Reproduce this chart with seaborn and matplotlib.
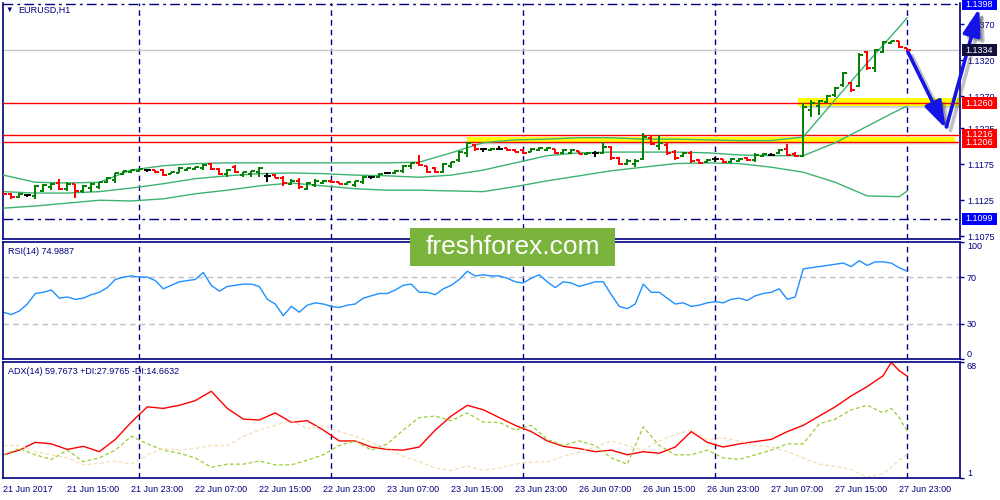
import numpy as np
import matplotlib
matplotlib.use('Agg')
import matplotlib.pyplot as plt
import seaborn as sns
from matplotlib.patches import Rectangle

sns.set_style('white')
plt.rcParams['font.family'] = ['Liberation Sans', 'DejaVu Sans']

# EURUSD H1 bars, 21 Jun 2017 07:00 .. 28 Jun 2017 00:00
open_ = [1.1137, 1.1134, 1.1130, 1.1132, 1.1131, 1.1138, 1.1144, 1.1149, 1.1141, 1.1148,
         1.1138, 1.1142, 1.1144, 1.1150, 1.1153, 1.1162, 1.1164, 1.1166, 1.1167, 1.1167,
         1.1167, 1.1162, 1.1163, 1.1167, 1.1169, 1.1170, 1.1176, 1.1169, 1.1162, 1.1171,
         1.1160, 1.1162, 1.1164, 1.1159, 1.1160, 1.1156, 1.1148, 1.1152, 1.1141, 1.1146,
         1.1149, 1.1152, 1.1150, 1.1148, 1.1146, 1.1150, 1.1157, 1.1157, 1.1163, 1.1163,
         1.1166, 1.1173, 1.1177, 1.1173, 1.1170, 1.1164, 1.1173, 1.1181, 1.1191, 1.1202,
         1.1196, 1.1195, 1.1196, 1.1197, 1.1195, 1.1195, 1.1192, 1.1195, 1.1195, 1.1196,
         1.1191, 1.1191, 1.1194, 1.1189, 1.1191, 1.1191, 1.1199, 1.1184, 1.1176, 1.1176,
         1.1182, 1.1212, 1.1200, 1.1202, 1.1192, 1.1187, 1.1191, 1.1181, 1.1178, 1.1182,
         1.1182, 1.1178, 1.1180, 1.1184, 1.1181, 1.1187, 1.1188, 1.1191, 1.1196, 1.1189,
         1.1187, 1.1251, 1.1256, 1.1262, 1.1271, 1.1285, 1.1288, 1.1284, 1.1331, 1.1309,
         1.1331, 1.1344, 1.1347, 1.1337]
high = [1.1138, 1.1135, 1.1135, 1.1134, 1.1146, 1.1148, 1.1149, 1.1155, 1.1150, 1.1148,
        1.1146, 1.1149, 1.1150, 1.1157, 1.1163, 1.1166, 1.1167, 1.1169, 1.1169, 1.1167,
        1.1169, 1.1164, 1.1171, 1.1170, 1.1171, 1.1176, 1.1177, 1.1170, 1.1169, 1.1174,
        1.1164, 1.1166, 1.1171, 1.1163, 1.1162, 1.1159, 1.1155, 1.1156, 1.1150, 1.1155,
        1.1153, 1.1153, 1.1150, 1.1150, 1.1152, 1.1159, 1.1159, 1.1163, 1.1163, 1.1167,
        1.1174, 1.1177, 1.1188, 1.1173, 1.1171, 1.1177, 1.1178, 1.1194, 1.1206, 1.1203,
        1.1198, 1.1198, 1.1200, 1.1198, 1.1196, 1.1196, 1.1198, 1.1199, 1.1199, 1.1196,
        1.1196, 1.1196, 1.1194, 1.1192, 1.1194, 1.1206, 1.1200, 1.1185, 1.1182, 1.1182,
        1.1219, 1.1216, 1.1216, 1.1205, 1.1195, 1.1192, 1.1194, 1.1182, 1.1182, 1.1185,
        1.1182, 1.1184, 1.1184, 1.1185, 1.1191, 1.1191, 1.1191, 1.1196, 1.1203, 1.1192,
        1.1260, 1.1265, 1.1265, 1.1271, 1.1283, 1.1303, 1.1290, 1.1330, 1.1333, 1.1335,
        1.1347, 1.1347, 1.1347, 1.1337]
low = [1.1132, 1.1127, 1.1128, 1.1130, 1.1127, 1.1137, 1.1139, 1.1139, 1.1138, 1.1128,
       1.1135, 1.1137, 1.1141, 1.1149, 1.1149, 1.1160, 1.1163, 1.1164, 1.1164, 1.1163,
       1.1159, 1.1162, 1.1163, 1.1166, 1.1167, 1.1167, 1.1167, 1.1160, 1.1157, 1.1163,
       1.1157, 1.1157, 1.1157, 1.1150, 1.1156, 1.1145, 1.1146, 1.1141, 1.1139, 1.1144,
       1.1148, 1.1149, 1.1148, 1.1146, 1.1144, 1.1148, 1.1155, 1.1156, 1.1162, 1.1162,
       1.1163, 1.1169, 1.1173, 1.1163, 1.1163, 1.1163, 1.1170, 1.1178, 1.1185, 1.1194,
       1.1192, 1.1194, 1.1195, 1.1194, 1.1192, 1.1189, 1.1192, 1.1194, 1.1194, 1.1189,
       1.1189, 1.1189, 1.1189, 1.1188, 1.1185, 1.1189, 1.1181, 1.1174, 1.1174, 1.1171,
       1.1181, 1.1202, 1.1195, 1.1188, 1.1181, 1.1185, 1.1177, 1.1176, 1.1177, 1.1178,
       1.1177, 1.1177, 1.1178, 1.1180, 1.1178, 1.1185, 1.1187, 1.1189, 1.1187, 1.1185,
       1.1185, 1.1241, 1.1244, 1.1260, 1.1269, 1.1283, 1.1276, 1.1283, 1.1306, 1.1303,
       1.1330, 1.1342, 1.1337, 1.1331]
close = [1.1134, 1.1130, 1.1134, 1.1132, 1.1145, 1.1146, 1.1148, 1.1141, 1.1148, 1.1138,
         1.1145, 1.1148, 1.1150, 1.1156, 1.1163, 1.1166, 1.1167, 1.1169, 1.1167, 1.1164,
         1.1160, 1.1164, 1.1170, 1.1170, 1.1171, 1.1174, 1.1169, 1.1162, 1.1167, 1.1164,
         1.1164, 1.1166, 1.1170, 1.1159, 1.1156, 1.1149, 1.1152, 1.1144, 1.1149, 1.1152,
         1.1152, 1.1150, 1.1148, 1.1150, 1.1152, 1.1157, 1.1157, 1.1162, 1.1163, 1.1166,
         1.1173, 1.1177, 1.1174, 1.1164, 1.1164, 1.1176, 1.1178, 1.1192, 1.1205, 1.1196,
         1.1196, 1.1196, 1.1196, 1.1195, 1.1192, 1.1191, 1.1196, 1.1198, 1.1198, 1.1191,
         1.1195, 1.1195, 1.1189, 1.1191, 1.1191, 1.1199, 1.1184, 1.1176, 1.1180, 1.1180,
         1.1213, 1.1203, 1.1205, 1.1191, 1.1184, 1.1191, 1.1180, 1.1177, 1.1181, 1.1182,
         1.1178, 1.1182, 1.1182, 1.1181, 1.1188, 1.1190, 1.1188, 1.1195, 1.1188, 1.1187,
         1.1255, 1.1260, 1.1263, 1.1270, 1.1281, 1.1302, 1.1278, 1.1327, 1.1309, 1.1334,
         1.1345, 1.1347, 1.1338, 1.1334]

# Bollinger bands, read every 4 bars
band_bars = [0, 4, 8, 12, 16, 20, 24, 28, 32, 36, 40, 44, 48, 52, 56, 60, 64, 68, 72, 76,
             80, 84, 88, 92, 96, 100, 104, 108, 112, 113]
bb_upper = [1.1160, 1.1150, 1.1149, 1.1150, 1.1167, 1.1173, 1.1176, 1.1177, 1.1177, 1.1177,
            1.1177, 1.1177, 1.1177, 1.1178, 1.1191, 1.1205, 1.1209, 1.1210, 1.1212, 1.1212,
            1.1210, 1.1210, 1.1209, 1.1208, 1.1208, 1.1213, 1.1265, 1.1316, 1.1366, 1.1379]
bb_mid = [1.1137, 1.1135, 1.1135, 1.1137, 1.1142, 1.1148, 1.1155, 1.1159, 1.1162, 1.1163,
          1.1162, 1.1160, 1.1159, 1.1157, 1.1160, 1.1167, 1.1177, 1.1187, 1.1191, 1.1192,
          1.1192, 1.1192, 1.1191, 1.1188, 1.1187, 1.1187, 1.1205, 1.1228, 1.1251, 1.1256]
bb_lower = [1.1114, 1.1117, 1.1121, 1.1125, 1.1124, 1.1127, 1.1134, 1.1139, 1.1145, 1.1149,
            1.1145, 1.1141, 1.1139, 1.1139, 1.1138, 1.1137, 1.1144, 1.1152, 1.1159, 1.1166,
            1.1171, 1.1176, 1.1177, 1.1176, 1.1171, 1.1164, 1.1150, 1.1131, 1.1130, 1.1138]

rsi = [40, 38, 41, 47, 56, 57, 59, 52, 53, 51,
       52, 55, 57, 61, 68, 70, 71, 70, 70, 67,
       60, 63, 66, 67, 68, 74, 63, 58, 62, 63,
       64, 64, 62, 51, 47, 37, 45, 40, 46, 48,
       47, 45, 44, 46, 47, 52, 54, 56, 56, 59,
       63, 64, 57, 57, 55, 60, 63, 68, 75, 71,
       72, 71, 71, 69, 66, 65, 69, 72, 66, 61,
       66, 65, 62, 64, 66, 66, 55, 45, 43, 47,
       64, 57, 57, 52, 47, 48, 45, 46, 48, 49,
       48, 51, 52, 50, 54, 56, 57, 60, 51, 53,
       77, 78, 79, 80, 81, 82, 79, 84, 80, 83,
       83, 82, 78, 74.99]

# ADX / DI, read every 2 bars then the last bars
di_bars = list(range(0, 111, 2)) + [111, 112, 113]
adx = [14.4, 17.1, 21.6, 20.7, 17.5, 19.3, 16.2, 23.3, 33.2, 42.1,
       41.2, 43.0, 45.7, 51.1, 41.2, 35.0, 34.5, 38.6, 33.2, 34.1,
       28.7, 22.4, 22.4, 18.9, 17.5, 17.1, 18.9, 28.7, 36.8, 43.0,
       40.4, 35.9, 31.4, 27.8, 22.4, 19.3, 18.0, 16.2, 17.1, 14.4,
       16.2, 15.3, 18.9, 27.8, 21.6, 18.9, 20.7, 22.0, 23.3, 27.8,
       31.4, 36.8, 42.1, 48.4, 53.8, 60.1, 67.8, 63.0, 59.77]
plus_di = [14.4, 18.0, 14.4, 11.7, 17.1, 10.4, 12.6, 17.1, 25.1, 20.7,
           17.1, 15.3, 12.6, 7.2, 9.0, 9.0, 10.8, 8.6, 8.6, 11.3,
           14.4, 19.8, 22.4, 17.1, 20.7, 28.7, 35.9, 36.8, 34.1, 38.6,
           33.2, 33.2, 28.7, 31.4, 23.3, 19.8, 22.4, 19.8, 12.6, 9.0,
           30.5, 19.8, 14.4, 14.4, 17.1, 12.6, 11.7, 14.4, 17.1, 20.7,
           20.7, 32.3, 35.0, 40.4, 43.0, 38.6, 41.3, 35.9, 27.98]
minus_di = [19.8, 19.8, 16.2, 14.4, 12.6, 8.6, 9.5, 10.8, 9.0, 14.4,
            18.0, 17.1, 18.0, 19.8, 19.8, 25.1, 28.7, 31.4, 34.1, 29.6,
            31.4, 27.8, 25.1, 21.6, 18.0, 13.5, 10.4, 6.8, 5.4, 7.9,
            5.4, 6.8, 9.0, 10.3, 10.3, 13.5, 16.2, 18.9, 22.4, 19.8,
            17.1, 22.4, 26.0, 28.7, 23.3, 24.2, 22.4, 19.8, 18.9, 16.2,
            12.6, 9.0, 7.7, 5.9, 1.5, 3.5, 7.2, 11.3, 14.66]

label_bars = [0, 8, 16, 24, 32, 40, 48, 56, 64, 72, 80, 88, 96, 104, 112]
time_labels = ['21 Jun 2017', '21 Jun 15:00', '21 Jun 23:00', '22 Jun 07:00', '22 Jun 15:00',
               '22 Jun 23:00', '23 Jun 07:00', '23 Jun 15:00', '23 Jun 23:00', '26 Jun 07:00',
               '26 Jun 15:00', '26 Jun 23:00', '27 Jun 07:00', '27 Jun 15:00', '27 Jun 23:00']
day_breaks = [17, 41, 65, 89, 113]

price_ticks = [1.1075, 1.1125, 1.1175, 1.1225, 1.1270, 1.1320, 1.1370]
levels = [1.1260, 1.1216, 1.1206]
bid = 1.1334
range_top, range_bottom = 1.1398, 1.1099

NAVY = '#000080'
fig = plt.figure(figsize=(10, 5), dpi=100)
ax = fig.add_axes([0.003, 0.522, 0.957, 0.472])
ax_rsi = fig.add_axes([0.003, 0.282, 0.957, 0.234])
ax_adx = fig.add_axes([0.003, 0.044, 0.957, 0.232])

for a in (ax, ax_rsi, ax_adx):
    a.set_xlim(-0.04, 119.6)
    for s in a.spines.values():
        s.set_color(NAVY)
        s.set_linewidth(1.2)
    a.yaxis.tick_right()
    a.tick_params(axis='y', direction='out', length=3, width=1, colors=NAVY, labelsize=6.5, pad=2)
    for d in day_breaks:
        a.axvline(d, color=NAVY, lw=1, ls=(0, (4, 3)), zorder=1)
ax.spines['top'].set_visible(False)

# ---- price panel
ax.set_ylim(1.10711, 1.13994)
ax.set_xticks([])
ax.set_yticks(price_ticks)
ax.set_yticklabels([f'{p:.4f}' for p in price_ticks])
ax.axhline(bid, color='#c8c8c8', lw=1, zorder=1)
for lv in (range_top, range_bottom):
    ax.axhline(lv, color=NAVY, lw=1, ls=(0, (7, 3, 2, 3)), zorder=1)

# highlighted zones with soft shadow
for x0, lo, hi in [(58.0, 1.12055, 1.12125), (99.3, 1.12555, 1.12675)]:
    x1 = 119.6 if x0 > 90 else 119.0
    for k, al in enumerate([0.35, 0.22, 0.1]):
        ax.add_patch(Rectangle((x0 + 0.3, lo - 0.00014 * (k + 1)), x1 - x0, 0.00014,
                               fc='#606060', ec='none', alpha=al, zorder=2))
    ax.add_patch(Rectangle((x0, lo), x1 - x0, hi - lo, fc='#ffff00', ec='none', zorder=2))
for lv in levels:
    ax.axhline(lv, color='#ff0000', lw=1, zorder=3)

band_color = '#3cb371'
for series in (bb_upper, bb_mid, bb_lower):
    sns.lineplot(x=band_bars, y=series, ax=ax, color=band_color, lw=1,
                 estimator=None, sort=False, legend=False, zorder=4)

idx = np.arange(len(close))
o, h, l, c = map(np.array, (open_, high, low, close))
col = np.where(c > o, '#008000', np.where(c < o, '#ff0000', '#000000'))
ax.vlines(idx, l, h, colors=col, lw=1.4, zorder=5)
ax.hlines(o, idx - 0.42, idx, colors=col, lw=1.4, zorder=5)
ax.hlines(c, idx, idx + 0.42, colors=col, lw=1.4, zorder=5)
ax.set_ylabel('')

# forecast arrows (with shadow)
arrows = [((113.1, 1.1331), (117.8, 1.1225)), ((117.9, 1.1227), (122.0, 1.1392))]
for (xs, ys), (xe, ye) in arrows:
    for dx, dy, colr, al in [(0.5, -0.0005, '#505050', 0.35), (0, 0, '#1414e6', 1)]:
        ax.annotate('', xy=(xe + dx, ye + dy), xytext=(xs + dx, ys + dy),
                    arrowprops=dict(arrowstyle='-|>,head_length=0.9,head_width=0.3', color=colr,
                                    lw=2.6, alpha=al, mutation_scale=18, shrinkA=0, shrinkB=0),
                    annotation_clip=False, zorder=8)

# price tags on the right scale
tags = [(1.1398, '#0000ff'), (bid, '#10103a'), (1.1260, '#ff0000'),
        (1.1206, '#ff0000'), (1.1216, '#ff0000'), (1.1099, '#0000ff')]
tr = ax.get_yaxis_transform()
for val, fc in tags:
    ax.add_patch(Rectangle((1.002, val - 0.00083), 0.037, 0.00166, transform=tr, fc=fc,
                           ec='none', clip_on=False, zorder=9))
    ax.text(1.0055, val, f'{val:.4f}', transform=tr, ha='left', va='center', fontsize=6.5,
            color='white', clip_on=False, zorder=10)

fig.text(0.0055, 0.979, '\u25bc', fontsize=5.5, color=NAVY, va='center', ha='left')
fig.text(0.018, 0.979, 'EURUSD,H1', fontsize=6.5, color=NAVY, va='center', ha='left')

# ---- RSI panel
ax_rsi.set_ylim(0, 100)
ax_rsi.set_xticks([])
sns.lineplot(x=idx, y=rsi, ax=ax_rsi, color='#1e90ff', lw=1, estimator=None, sort=False, legend=False)
for lv in (70, 30):
    ax_rsi.axhline(lv, color='#c0c0c0', lw=1, ls=(0, (4, 3)), zorder=1)
ax_rsi.set_yticks([100, 70, 30, 0])
ax_rsi.set_yticklabels(['100', '70', '30', '0'])
rl = ax_rsi.get_yticklabels()
rl[0].set_va('top')
rl[-1].set_va('bottom')
ax_rsi.set_ylabel('')
fig.text(0.0075, 1 - 252 / 500, 'RSI(14) 74.9887', fontsize=6.5, color=NAVY, va='center', ha='left')

# ---- ADX panel
ax_adx.set_ylim(1, 68)
sns.lineplot(x=di_bars, y=adx, ax=ax_adx, color='#ff0000', lw=1, estimator=None, sort=False, legend=False)
sns.lineplot(x=di_bars, y=plus_di, ax=ax_adx, color='#9acd32', lw=0.9, estimator=None, sort=False,
             legend=False, dashes=False)
sns.lineplot(x=di_bars, y=minus_di, ax=ax_adx, color='#f5deb3', lw=0.9, estimator=None, sort=False,
             legend=False, dashes=False)
ax_adx.lines[-2].set_linestyle((0, (3, 2)))
ax_adx.lines[-1].set_linestyle((0, (3, 2)))
ax_adx.set_yticks([68, 1])
ax_adx.set_yticklabels(['68', '1'])
al_ = ax_adx.get_yticklabels()
al_[0].set_va('top')
al_[1].set_va('bottom')
ax_adx.set_ylabel('')
ax_adx.set_xticks(label_bars)
ax_adx.set_xticklabels(time_labels, ha='left')
ax_adx.tick_params(axis='x', direction='out', length=3, width=1, colors=NAVY, labelsize=6.5, pad=2)
fig.text(0.0075, 1 - 371.5 / 500, 'ADX(14) 59.7673 +DI:27.9765 -DI:14.6632', fontsize=6.5,
         color=NAVY, va='center', ha='left')

# watermark
fig.add_artist(Rectangle((0.410, 1 - 266 / 500), 0.205, 38 / 500, transform=fig.transFigure,
                         fc='#7ab43c', ec='none', zorder=20))
fig.text(0.5125, 1 - 247 / 500, 'freshforex.com', fontsize=19, color='white', ha='center',
         va='center', zorder=21)

fig.savefig('out.png', dpi=100, facecolor='white')
